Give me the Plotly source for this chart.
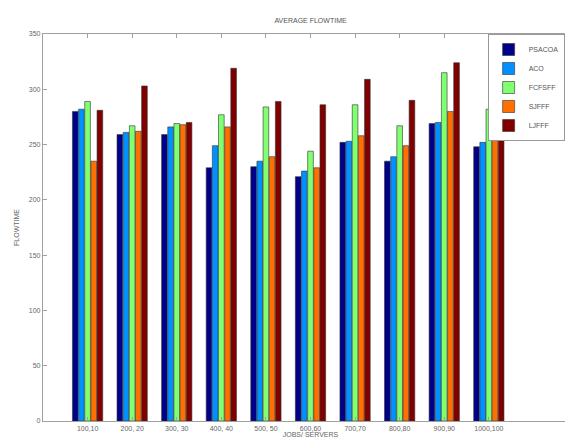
import plotly.graph_objects as go

categories = ["100,10", "200, 20", "300, 30", "400, 40", "500, 50",
              "600,60", "700,70", "800,80", "900,90", "1000,100"]
series_names = ["PSACOA", "ACO", "FCFSFF", "SJFFF", "LJFFF"]
psacoa = [280, 259, 259, 229, 230, 221, 252, 235, 269, 248]
aco    = [282, 261, 266, 249, 235, 226, 253, 239, 270, 252]
fcfsff = [289, 267, 269, 277, 284, 244, 286, 267, 315, 282]
sjfff  = [235, 262, 268, 266, 239, 229, 258, 249, 280, 259]
ljfff  = [281, 303, 270, 319, 289, 286, 309, 290, 324, 301]
colors = ["#000088", "#0090ff", "#80ff70", "#ff7000", "#800000"]

values = [psacoa, aco, fcfsff, sjfff, ljfff]
xpos = list(range(1, len(categories) + 1))

FONT = "Arial"

fig = go.Figure()
for name, vals, col in zip(series_names, values, colors):
    fig.add_trace(go.Bar(x=xpos, y=vals, name=name, marker_color=col,
                         marker_line=dict(color="#333333", width=0.6)))

axis_common = dict(showline=True, linecolor="#a0a0a0", linewidth=1.2,
                   mirror="ticks", ticks="inside", tickcolor="#a0a0a0",
                   ticklen=4, showgrid=False, zeroline=False,
                   tickfont=dict(family=FONT, size=7, color="#666666"))

fig.update_layout(
    width=573, height=445,
    margin=dict(l=35, r=3, t=26, b=32),
    paper_bgcolor="white", plot_bgcolor="white",
    barmode="group", bargap=0.31, bargroupgap=0.08,
    title=dict(text="AVERAGE FLOWTIME", x=0.528, xanchor="center", y=0.971,
               yanchor="middle",
               font=dict(family=FONT, size=7, color="#555555")),
    xaxis=dict(axis_common, range=[0, 12], tickmode="array", tickvals=xpos,
               ticktext=categories,
               title=dict(text="JOBS/ SERVERS", standoff=1,
                          font=dict(family=FONT, size=7, color="#666666"))),
    yaxis=dict(axis_common, range=[0, 350], tickvals=list(range(0, 351, 50)),
               title=dict(text="FLOWTIME", standoff=8,
                          font=dict(family=FONT, size=7, color="#666666"))),
    legend=dict(x=0.975, xanchor="right", y=1.0, yanchor="top",
                bgcolor="white", bordercolor="#999999", borderwidth=1,
                tracegroupgap=0, itemwidth=30,
                font=dict(family=FONT, size=7, color="#555555")),
    showlegend=True,
)

fig.write_html("out.html")
